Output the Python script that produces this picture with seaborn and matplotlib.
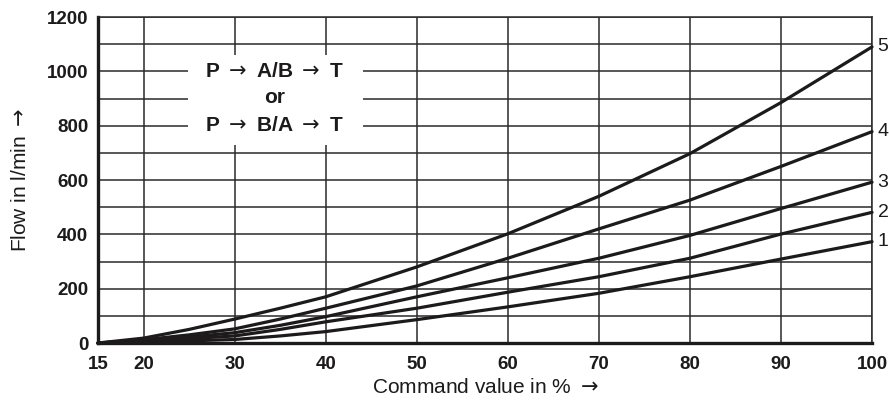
import matplotlib
matplotlib.use("Agg")
import matplotlib.pyplot as plt
from matplotlib.ticker import MultipleLocator
from matplotlib.patches import Rectangle
import seaborn as sns
import pandas as pd

# Data
command = [15, 20, 25, 30, 35, 40, 50, 60, 70, 80, 90, 100]
curve_1 = [0, 4, 8, 13, 26, 42, 86, 133, 183, 244, 309, 373]
curve_2 = [0, 7, 16, 26, 50, 78, 128, 187, 244, 312, 401, 481]
curve_3 = [0, 9, 22, 38, 65, 97, 170, 240, 312, 396, 495, 592]
curve_4 = [0, 12, 30, 52, 88, 128, 210, 312, 420, 526, 650, 778]
curve_5 = [0, 18, 50, 88, 128, 170, 280, 402, 540, 697, 885, 1090]
curve_names = ["1", "2", "3", "4", "5"]
x_ticks = [15, 20, 30, 40, 50, 60, 70, 80, 90, 100]
y_ticks = [0, 200, 400, 600, 800, 1000, 1200]
box_lines = ["P $\\rightarrow$ A/B $\\rightarrow$ T", "or",
             "P $\\rightarrow$ B/A $\\rightarrow$ T"]

series = [curve_1, curve_2, curve_3, curve_4, curve_5]
rows = []
for name, vals in zip(curve_names, series):
    for xv, yv in zip(command, vals):
        rows.append({"command": xv, "flow": yv, "curve": name})
df = pd.DataFrame(rows)

sns.set_theme(style="white")
plt.rcParams["font.family"] = ["Liberation Sans", "DejaVu Sans"]
plt.rcParams["mathtext.fontset"] = "dejavusans"

fig = plt.figure(figsize=(8.89, 4.07), dpi=100)
ax = fig.add_axes([0.1102, 0.1572, 0.9809 - 0.1102, 0.9582 - 0.1572])

ink = "#1c1a1a"
sns.lineplot(data=df, x="command", y="flow", hue="curve",
             palette=[ink] * 5, linewidth=2.3, legend=False, ax=ax,
             zorder=5, clip_on=False)

ax.set_xlim(15, 100)
ax.set_ylim(0, 1200)
ax.set_xticks(x_ticks)
ax.set_yticks(y_ticks)
ax.yaxis.set_minor_locator(MultipleLocator(100))
ax.grid(True, which="both", axis="y", color="#2a2a2a", linewidth=1.1)
ax.grid(True, which="major", axis="x", color="#2a2a2a", linewidth=1.1)
ax.set_axisbelow(True)

ax.tick_params(axis="both", which="both", length=0)
ax.tick_params(axis="y", pad=7)
ax.tick_params(axis="x", pad=9)
for lab in ax.get_xticklabels() + ax.get_yticklabels():
    lab.set_fontweight("bold")
    lab.set_fontsize(13.5)
    lab.set_color("#1c1a1a")

for side in ["left", "bottom"]:
    ax.spines[side].set_linewidth(2.4)
    ax.spines[side].set_color(ink)
for side in ["top", "right"]:
    ax.spines[side].set_linewidth(1.1)
    ax.spines[side].set_color("#2a2a2a")
    ax.spines[side].set_visible(True)

ax.set_xlabel("Command value in % $\\rightarrow$", fontsize=15,
              color="#1c1a1a", labelpad=4)
ax.set_ylabel("Flow in l/min $\\rightarrow$", fontsize=15,
              color="#1c1a1a", labelpad=12)

# white box behind the annotation text
ax.add_patch(Rectangle((24.9, 729), 44.1 - 24.9, 1060 - 729,
                       facecolor="white", edgecolor="none", zorder=3))
for txt, yv in zip(box_lines, [1000, 905, 800]):
    ax.text(34.4, yv, txt, ha="center", va="center", fontsize=15,
            fontweight="bold", color="#1c1a1a", zorder=4)

# curve numbers at right end
for name, vals in zip(curve_names, series):
    ax.annotate(name, xy=(100, vals[-1]), xytext=(4, 0),
                textcoords="offset points", ha="left", va="center",
                fontsize=14, color="#1c1a1a", annotation_clip=False)

fig.savefig("out.png", dpi=100)
